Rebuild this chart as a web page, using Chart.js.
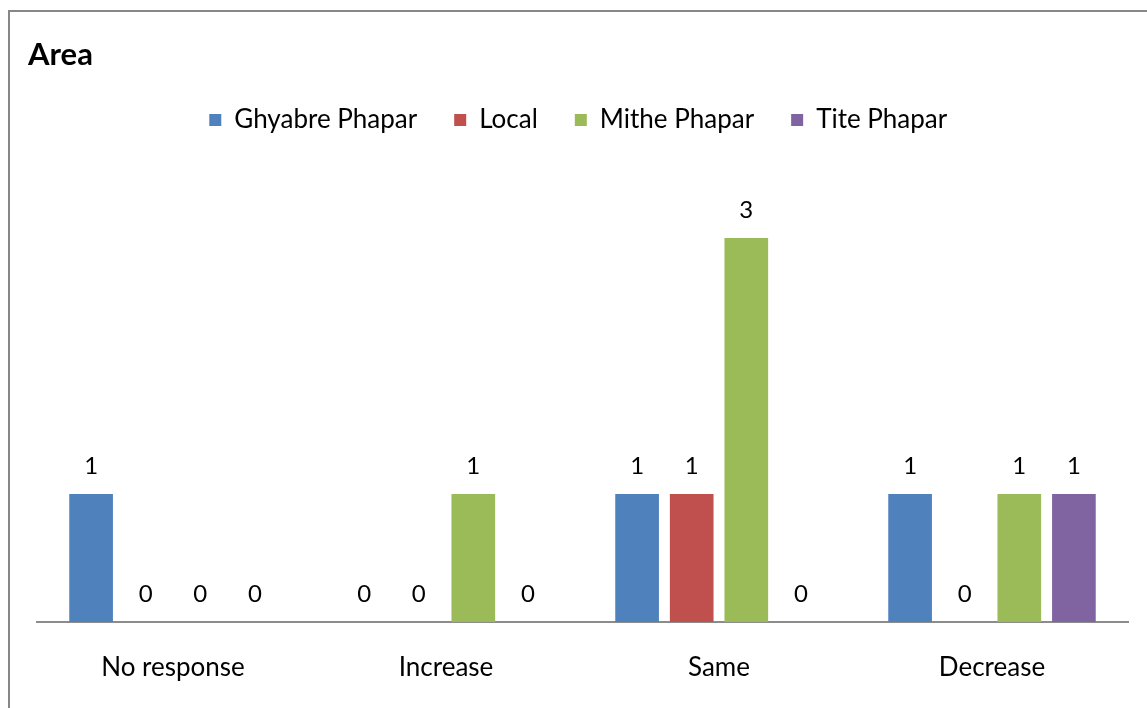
<!DOCTYPE html>
<html>
<head>
<meta charset="utf-8">
<script src="https://cdn.jsdelivr.net/npm/chart.js@4.4.1/dist/chart.umd.min.js"></script>
<style>
  html, body { margin: 0; padding: 0; background: #fff; overflow: hidden; }
  #wrap { position: relative; width: 1147px; height: 708px; }
  #frame { position: absolute; left: 8px; top: 10px; width: 1200px; height: 760px;
           border: 2px solid #878787; box-sizing: border-box; }
  canvas { position: absolute; left: 0; top: 0; }
</style>
</head>
<body>
<div id="wrap">
  <div id="frame"></div>
  <canvas id="chart" width="1147" height="708"></canvas>
</div>
<script>
const categories = ['No response', 'Increase', 'Same', 'Decrease'];
const seriesNames = ['Ghyabre Phapar', 'Local', 'Mithe Phapar', 'Tite Phapar'];
const ghyabreValues = [1, 0, 1, 1];
const localValues = [0, 0, 1, 0];
const mitheValues = [0, 1, 3, 1];
const titeValues = [0, 0, 0, 1];
const colors = ['#4F81BD', '#C0504D', '#9BBB59', '#8064A2'];

const FONT = 'Lato, "Open Sans", sans-serif';

// small plugin for the value labels above each bar
const valueLabels = {
    id: 'valueLabels',
    afterDatasetsDraw(chart) {
        const ctx = chart.ctx;
        ctx.save();
        ctx.font = '24px ' + FONT;
        ctx.fillStyle = '#000';
        ctx.textAlign = 'center';
        ctx.textBaseline = 'middle';
        chart.data.datasets.forEach((ds, i) => {
            chart.getDatasetMeta(i).data.forEach((bar, j) => {
                ctx.fillText(ds.data[j], bar.x, bar.y - 28);
            });
        });
        ctx.restore();
    }
};

const allValues = [ghyabreValues, localValues, mitheValues, titeValues];

new Chart(document.getElementById('chart'), {
    type: 'bar',
    data: {
        labels: categories,
        datasets: seriesNames.map((name, i) => ({
            label: name,
            data: allValues[i],
            backgroundColor: colors[i],
            categoryPercentage: 0.8,
            barPercentage: 0.8
        }))
    },
    options: {
        responsive: false,
        animation: false,
        events: [],
        layout: { padding: { left: 28, right: 18.5, top: 0, bottom: 0 } },
        plugins: {
            title: {
                display: true,
                text: 'Area',
                align: 'start',
                color: '#000',
                font: { family: FONT, size: 31, weight: 'bold', lineHeight: 1.0 },
                padding: { top: 39, bottom: 0 }
            },
            legend: {
                position: 'top',
                labels: {
                    color: '#000',
                    font: { family: FONT, size: 26 },
                    boxWidth: 12,
                    boxHeight: 12,
                    padding: 37
                }
            },
            tooltip: { enabled: false }
        },
        scales: {
            x: {
                grid: { display: false, drawTicks: false },
                border: { display: true, color: '#8c8c8c', width: 2 },
                ticks: { color: '#000', font: { family: FONT, size: 26 }, padding: 30 },
                afterFit: s => { s.height = 86; }
            },
            top: {
                type: 'category',
                position: 'top',
                labels: categories,
                grid: { display: false, drawTicks: false },
                border: { display: false },
                ticks: { display: false },
                afterFit: s => { s.height = 31; }
            },
            y: {
                min: 0,
                max: 3.5,
                grid: { display: false, drawTicks: false },
                border: { display: false },
                ticks: { display: false },
                afterFit: s => { s.width = 8.5; }
            }
        }
    },
    plugins: [valueLabels]
});
</script>
</body>
</html>
